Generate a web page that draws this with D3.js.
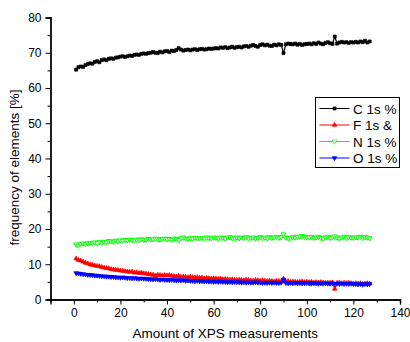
<!DOCTYPE html>
<html><head><meta charset="utf-8">
<script src="https://cdn.jsdelivr.net/npm/d3@7"></script>
<style>body{margin:0;background:#fff}svg{display:block}text{font-family:"Liberation Sans",Arial,sans-serif;fill:#000}</style>
</head><body>
<svg id="c" width="410" height="342"></svg>
<script>
const seriesNames = ["C 1s %", "F 1s &", "N 1s %", "O 1s %"];
const seriesColors = ["#000000", "#ff0000", "#00ff00", "#0000ff"];
const xTicks = [0, 20, 40, 60, 80, 100, 120, 140];
const yTicks = [0, 10, 20, 30, 40, 50, 60, 70, 80];

const cValues = [65.2,65.9,66.1,66.0,66.5,66.8,67.0,66.9,67.4,67.6,
67.3,67.9,68.1,67.9,68.3,68.4,68.3,68.6,68.7,68.9,
69.0,68.8,69.0,69.2,69.1,69.4,69.5,69.4,69.7,69.8,
69.7,69.9,70.0,70.2,70.0,69.9,70.3,70.1,70.4,70.5,
70.2,70.6,70.5,70.8,71.3,70.9,70.6,70.8,70.9,70.7,
70.9,71.0,70.8,71.0,71.1,70.9,71.0,71.2,71.1,71.2,
71.3,71.2,71.5,71.4,71.6,71.3,71.5,71.7,71.4,71.6,
71.7,71.5,71.8,71.9,71.7,72.0,72.2,71.9,71.7,72.2,
72.4,72.1,72.3,72.0,71.9,72.3,72.1,72.4,72.2,69.9,
72.4,72.6,72.5,72.4,72.6,72.3,72.5,72.2,72.4,72.5,
72.6,72.4,72.7,72.5,72.9,72.6,72.4,72.8,73.0,72.7,
72.5,74.6,72.6,72.9,73.1,72.9,73.0,72.8,73.0,72.9,
73.1,72.9,73.2,73.0,73.4,72.9,73.2];
const fValues = [11.6,11.2,11.0,10.7,10.4,10.2,9.9,9.8,9.6,9.5,
9.4,9.2,9.0,8.9,8.8,8.6,8.5,8.4,8.3,8.2,
8.1,8.0,7.9,7.8,7.9,7.6,7.7,7.5,7.6,7.4,
7.3,7.2,7.1,7.0,6.8,7.0,6.9,6.8,6.9,6.8,
6.9,6.7,6.6,6.5,6.7,6.4,6.5,6.4,6.3,6.4,
6.3,6.2,6.3,6.1,6.2,6.0,6.1,6.0,5.9,6.0,
5.9,5.8,5.9,5.7,5.8,5.7,5.6,5.7,5.6,5.5,
5.6,5.5,5.4,5.6,5.5,5.4,5.3,5.5,5.4,5.3,
5.4,5.3,5.2,5.3,5.2,5.1,5.3,5.2,5.1,5.9,
5.1,5.2,5.0,5.1,5.0,4.9,5.0,5.1,4.9,5.0,
4.9,5.0,4.8,4.9,4.8,4.9,4.8,4.7,4.8,4.7,
4.8,3.0,4.7,4.8,4.6,4.7,4.6,4.7,4.6,4.5,
4.6,4.5,4.6,4.4,4.5,4.6,4.5];
const nValues = [15.6,15.3,15.8,15.9,15.8,16.0,16.1,15.9,16.2,16.0,
16.3,16.1,16.4,16.3,16.6,16.5,16.4,16.7,16.5,16.8,
16.7,16.9,16.8,17.0,16.9,16.8,17.0,16.9,17.1,16.9,
17.0,17.2,17.0,17.1,17.3,17.1,17.0,17.2,17.3,17.1,
17.2,17.0,17.3,17.2,16.9,17.4,17.6,17.3,17.2,17.4,
17.3,17.5,17.4,17.3,17.5,17.4,17.6,17.5,17.4,17.6,
17.5,17.4,17.6,17.5,17.3,17.6,17.7,17.4,17.5,17.6,
17.4,17.6,17.5,17.7,17.4,17.5,17.6,17.3,17.5,17.7,
17.5,17.6,17.4,17.7,17.5,17.6,17.8,17.5,17.7,18.5,
17.6,17.4,17.5,17.7,17.6,17.8,17.9,18.0,17.8,17.6,
17.7,17.8,17.5,17.6,17.8,17.5,17.3,17.6,17.8,17.5,
17.7,17.9,17.6,17.3,17.6,17.8,17.5,17.7,17.6,17.5,
17.7,17.6,17.8,17.5,17.7,17.6,17.4];
const oValues = [7.5,7.4,7.3,7.2,7.1,7.0,7.0,6.9,6.8,6.8,
6.7,6.6,6.6,6.5,6.5,6.4,6.4,6.3,6.3,6.2,
6.3,6.2,6.1,6.1,6.0,6.1,6.0,5.9,6.0,5.9,
5.9,5.8,5.8,5.7,5.8,5.7,5.6,5.7,5.6,5.6,
5.5,5.6,5.5,5.4,5.5,5.4,5.5,5.3,5.4,5.3,
5.3,5.2,5.3,5.2,5.2,5.1,5.2,5.1,5.1,5.0,
5.1,5.0,5.1,5.0,5.0,4.9,5.0,4.9,5.0,4.9,
4.9,4.8,4.9,4.8,4.9,4.8,4.8,4.9,4.8,4.8,
4.7,4.8,4.7,4.8,4.7,4.8,4.7,4.7,4.8,5.6,
4.7,4.6,4.7,4.6,4.7,4.6,4.7,4.6,4.6,4.7,
4.6,4.5,4.6,4.6,4.5,4.6,4.5,4.6,4.5,4.5,
4.6,4.5,4.5,4.4,4.5,4.4,4.5,4.4,4.5,4.4,
4.4,4.3,4.4,4.2,4.4,4.3,4.4];

const allValues = [cValues, fValues, nValues, oValues];
const svg = d3.select("#c");
const L = 50.5, R = 400, T = 17.5, B = 299.5;
const x = d3.scaleLinear().domain([-10, 140]).range([L, R]);
const y = d3.scaleLinear().domain([0, 80]).range([B, T]);

const xAxis = d3.axisBottom(x).tickValues(xTicks).tickSize(5).tickPadding(4).tickFormat(d3.format("d"));
const xMinor = d3.axisBottom(x).tickValues(d3.range(-10, 141, 10).filter(v => v % 20 !== 0)).tickSize(3).tickFormat("");
const yAxis = d3.axisLeft(y).tickValues(yTicks).tickSize(5).tickPadding(4);
const yMinor = d3.axisLeft(y).tickValues(d3.range(5, 80, 10)).tickSize(3).tickFormat("");

function styleAxis(g) {
  g.select(".domain").attr("stroke", "#000").attr("stroke-width", 1.3);
  g.selectAll(".tick line").attr("stroke", "#000").attr("stroke-width", 1);
  g.selectAll("text").attr("font-size", 12).attr("font-family", "Liberation Sans, Arial, sans-serif");
}
svg.append("g").attr("transform", `translate(0,${B})`).call(xMinor).call(styleAxis);
svg.append("g").attr("transform", `translate(0,${B})`).call(xAxis).call(styleAxis);
svg.append("g").attr("transform", `translate(${L},0)`).call(yMinor).call(styleAxis);
svg.append("g").attr("transform", `translate(${L},0)`).call(yAxis).call(styleAxis);

svg.append("text").attr("x", (L + R) / 2).attr("y", 337.5).attr("text-anchor", "middle")
  .attr("font-size", 13.5).text("Amount of XPS measurements");
svg.append("text").attr("transform", "translate(19,167.5) rotate(-90)").attr("text-anchor", "middle")
  .attr("font-size", 13.5).text("frequency of elements [%]");

const symbols = [d3.symbolSquare, d3.symbolTriangle, d3.symbolTriangle, d3.symbolTriangle];
const rotations = [0, 0, 180, 180];
const filled = [true, true, false, true];
const symSize = [9, 9, 10, 9];

const line = d3.line().x((d, i) => x(i + 1)).y(d => y(d));
allValues.forEach((vals, k) => {
  const g = svg.append("g");
  g.append("path").datum(vals).attr("d", line).attr("fill", "none")
    .attr("stroke", seriesColors[k]).attr("stroke-width", 1.2);
  g.selectAll("path.m").data(vals).join("path").attr("class", "m")
    .attr("d", d3.symbol().type(symbols[k]).size(symSize[k]))
    .attr("transform", (d, i) => `translate(${x(i + 1)},${y(d)}) rotate(${rotations[k]})`)
    .attr("fill", filled[k] ? seriesColors[k] : "#fff")
    .attr("stroke", seriesColors[k]).attr("stroke-width", filled[k] ? 0.7 : 1);
});

const lg = svg.append("g");
lg.append("rect").attr("x", 315.5).attr("y", 97.5).attr("width", 84).attr("height", 70)
  .attr("fill", "#fff").attr("stroke", "#000").attr("stroke-width", 1);
seriesNames.forEach((name, k) => {
  const cy = 108.5 + k * 16.5;
  lg.append("line").attr("x1", 319.5).attr("x2", 349.5).attr("y1", cy).attr("y2", cy)
    .attr("stroke", seriesColors[k]).attr("stroke-width", 1);
  lg.append("path").attr("d", d3.symbol().type(symbols[k]).size(symSize[k]))
    .attr("transform", `translate(334.5,${cy}) rotate(${rotations[k]})`)
    .attr("fill", filled[k] ? seriesColors[k] : "#fff")
    .attr("stroke", seriesColors[k]).attr("stroke-width", 0.7);
  lg.append("text").attr("x", 353).attr("y", cy + 5).attr("font-size", 13.5).text(name);
});
</script>
</body></html>
